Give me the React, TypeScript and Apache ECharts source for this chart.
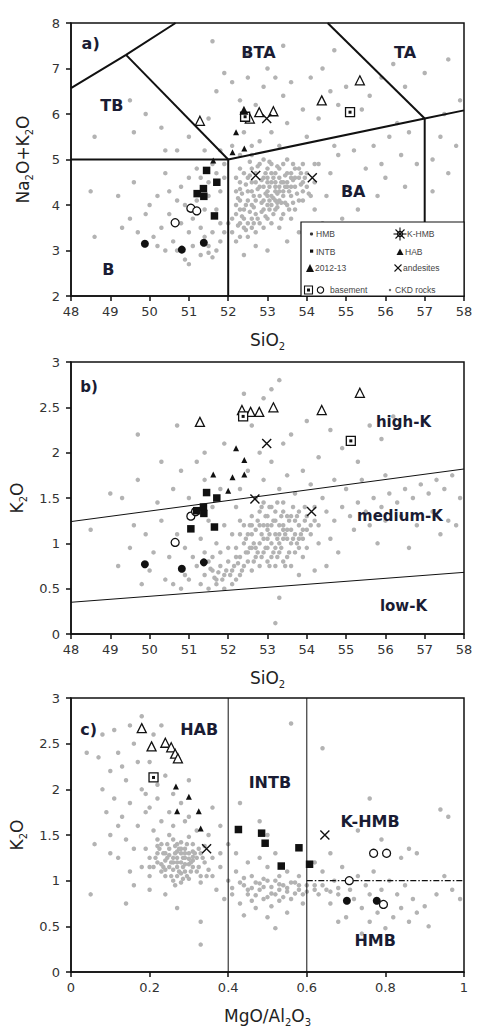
import React, { useEffect, useRef } from "react";
import * as echarts from "echarts";

// ---------- Panel a) TAS: SiO2 vs Na2O+K2O ----------
const grayA: number[][] = [
  [52.3,4.1],[52.4,3.9],[52.5,4.3],[52.6,4.0],[52.7,4.5],[52.8,4.2],[52.9,4.6],[53.0,4.3],[53.1,4.5],[53.2,4.4],[53.3,4.6],[53.4,4.3],[53.5,4.5],[53.6,4.2],[53.7,4.4],[53.8,4.6],[53.9,4.3],[52.5,4.6],[52.6,4.8],[52.8,4.9],[53.0,4.8],[53.2,4.7],[53.4,4.9],[53.6,4.7],[53.8,4.8],[52.4,3.7],[52.5,3.6],[52.7,3.8],[52.9,3.9],[53.1,4.0],[53.3,4.1],[53.5,4.0],[53.7,3.9],[52.2,3.8],[52.3,3.6],[52.2,4.3],[52.3,4.5],[52.4,4.7],[52.6,4.3],[52.7,4.1],[52.9,4.1],[53.0,4.0],[53.1,4.2],[53.2,4.1],[53.3,4.3],[53.4,4.5],[53.5,4.7],[53.6,4.4],[53.7,4.6],[53.9,4.5],[54.0,4.4],[54.1,4.2],[53.0,4.6],[53.1,4.7],[53.2,4.5],[53.3,4.4],[52.8,4.4],[52.9,4.4],[53.0,4.5],[53.2,4.3],[53.4,4.2],[53.5,4.4],[53.6,4.6],[52.6,3.7],[52.8,3.6],[53.0,3.7],[52.4,3.5],[52.6,3.5],[52.3,3.9],[52.2,4.0],[53.9,4.1],[54.0,4.7],[54.2,4.5],[53.8,4.1],[52.7,4.7],[53.1,4.9],[53.3,4.8],[53.5,5.0],[52.9,5.0],[53.7,4.8],[52.5,4.1],[52.6,4.5],[53.9,4.9],[54.2,4.9],[52.2,4.6],[52.3,4.8],[53.0,4.2],[53.2,3.9],[53.4,3.8],[53.6,3.7],
  [52.35,4.25],[52.45,4.45],[52.55,4.65],[52.65,4.2],[52.75,4.35],[52.85,4.55],[52.95,4.25],[53.05,4.4],[53.15,4.6],[53.25,4.25],[53.35,4.5],[53.45,4.65],[53.55,4.3],[53.65,4.55],[53.75,4.25],[53.85,4.45],[52.45,4.0],[52.55,3.85],[52.65,3.95],[52.75,3.7],[52.85,3.85],[52.95,3.75],[53.05,3.9],[53.15,3.8],[53.25,3.95],[53.35,3.7],[53.45,4.05],[53.55,3.9],[52.35,3.75],[52.25,3.55],[52.45,3.45],[52.65,3.6],[52.85,4.05],[53.05,4.1],[53.25,4.05],[53.45,4.4],[53.65,4.05],[53.85,4.7],[53.05,4.95],[53.25,4.85],[52.75,4.85],[52.55,4.95],[53.65,4.9],[53.95,4.6],[54.05,4.25],[52.95,4.7],[53.15,4.15],[53.35,4.05],[52.25,4.15],[52.3,4.35],
  [52.1,3.4],[52.2,3.2],[52.3,3.3],[52.5,3.3],[52.7,3.4],[52.9,3.5],[53.1,3.6],[53.3,3.5],[52.1,3.7],[52.0,3.6],
  [50.1,3.3],[50.3,3.5],[50.5,3.8],[50.6,3.2],[50.8,3.6],[50.9,4.0],[51.0,3.4],[51.1,3.7],[51.2,4.1],[51.3,3.5],[51.4,3.9],[51.5,4.2],[51.6,3.4],[51.7,3.9],[51.8,4.3],[51.9,4.6],[51.8,3.6],[51.5,3.1],[51.3,2.9],[51.5,2.95],[51.7,3.0],[51.8,3.2],[51.6,2.85],[51.1,3.1],[50.9,2.8],[50.7,3.0],[50.4,3.0],[50.2,3.1],[49.7,3.4],[49.5,3.7],[49.9,3.8],[50.0,4.0],[50.2,4.2],[50.5,4.3],[50.8,4.4],[51.0,4.6],[51.2,4.8],[51.5,4.5],[51.7,4.7],[51.9,4.9],[51.6,4.9],[51.3,4.6],[50.7,4.1],[49.3,3.5],[48.6,3.3],[48.5,4.3],[49.2,4.2],[49.6,4.5],[50.4,4.7],[51.0,2.7],[51.4,3.3],[51.9,3.4],[51.0,3.9],
  [49.5,6.3],[49.9,6.0],[49.6,5.6],[50.3,5.7],[50.7,5.2],[51.0,5.5],[51.5,5.9],[51.7,6.5],[51.9,6.9],[52.1,6.7],[52.3,6.3],[52.5,6.8],[52.7,6.2],[52.9,6.6],[53.0,7.0],[53.2,6.8],[53.4,6.4],[53.6,6.7],[53.9,6.1],[54.1,6.8],[54.4,7.0],[54.6,6.5],[54.8,6.2],[55.0,6.6],[55.4,6.1],[55.6,6.4],[55.9,6.8],[56.2,7.1],[56.5,6.6],[57.0,6.9],[57.6,7.2],[53.4,7.5],[54.7,7.4],[52.5,7.3],[51.6,7.6],[50.4,5.2],[48.6,5.5],[53.1,5.6],[53.5,5.8],[54.0,5.5],[54.3,5.9],[52.8,5.4],[52.4,5.6],[52.6,5.3],[53.3,5.3],[52.1,5.3],[51.8,5.2],[51.4,5.2],[52.3,5.1],[52.6,5.1],
  [54.3,4.9],[54.5,4.2],[54.6,4.7],[54.8,5.1],[55.0,4.4],[55.2,5.2],[55.5,4.8],[55.7,5.3],[55.9,4.9],[56.1,5.5],[56.4,5.1],[56.6,5.6],[56.8,4.9],[55.3,3.9],[54.9,3.7],[54.4,3.6],[54.7,5.3],[56.0,4.6],[56.3,5.8],[57.2,5.0],[57.4,5.5],[57.6,4.7],[57.8,5.3],[57.5,6.0],[57.9,6.3],[57.2,4.3],[55.8,4.2],[56.5,4.4],[54.2,3.9],[53.8,3.4],[53.5,3.2],[52.7,3.1],[53.0,3.0],[52.4,2.9]
];
const hmbA = [[49.88,3.15],[50.82,3.02],[51.38,3.17]];
const openCircA = [[50.65,3.61],[51.05,3.93],[51.2,3.87]];
const intbA = [[51.45,4.76],[51.71,4.5],[51.37,4.36],[51.21,4.25],[51.38,4.19],[51.65,3.76]];
const habA = [[52.2,5.6],[52.11,5.16],[52.41,5.24],[51.62,4.98]];
const erupA = [[52.4,6.08]];
const openTriA = [[51.28,5.85],[52.55,5.9],[52.79,6.04],[53.15,6.06],[54.38,6.3],[55.35,6.74]];
const basementA = [[52.43,5.94],[55.1,6.04]];
const crossA = [[52.98,5.9],[52.7,4.65],[54.14,4.6]];
const tasLines: number[][][] = [
  [[48,6.57],[49.4,7.3],[50.66,8]],
  [[49.4,7.3],[52,5]],
  [[48,5],[52,5],[57,5.9],[58,6.08]],
  [[52,2],[52,5]],
  [[57,2],[57,5.9]],
  [[57,5.9],[54.53,8]]
];
const labelsA = [
  { name: "BTA", value: [52.77,7.36] },
  { name: "TA", value: [56.5,7.36] },
  { name: "TB", value: [49.04,6.19] },
  { name: "BA", value: [55.18,4.29] },
  { name: "B", value: [48.95,2.58] },
  { name: "a)", value: [48.5,7.55] }
];

// ---------- Panel b) SiO2 vs K2O ----------
const grayB: number[][] = [
  [52.4,1.0],[52.5,0.9],[52.6,1.1],[52.7,0.95],[52.8,1.2],[52.9,1.05],[53.0,1.15],[53.1,1.0],[53.2,1.1],[53.3,1.2],[53.4,1.05],[53.5,1.15],[53.6,1.0],[53.7,1.1],[53.8,1.2],[53.9,1.05],[54.0,1.15],[52.6,1.3],[52.8,1.35],[53.0,1.3],[53.2,1.25],[53.4,1.35],[53.6,1.3],[53.8,1.35],[54.0,1.3],[52.5,0.8],[52.7,0.85],[52.9,0.9],[53.1,0.85],[53.3,0.9],[53.5,0.85],[53.7,0.9],[52.3,0.85],[52.4,1.2],[52.6,0.95],[52.8,1.0],[53.0,1.05],[53.1,1.2],[53.2,0.95],[53.3,1.1],[53.4,1.2],[53.5,1.3],[53.6,1.15],[53.7,1.25],[53.9,1.15],[54.1,1.1],[54.2,1.25],[52.9,1.2],[53.0,0.95],[53.2,1.35],[53.3,1.0],[53.5,1.05],[52.7,1.15],[52.5,1.1],[53.8,0.95],[54.0,0.95],[53.1,1.4],[52.9,1.45],[53.4,1.45],[52.2,0.95],[52.3,1.1],[52.4,0.75],[52.6,0.7],[52.8,0.75],[53.0,0.8],[53.2,0.75],[53.4,0.8],[53.6,0.75],[54.2,1.4],[54.3,1.0],[53.9,0.85],
  [52.45,1.05],[52.55,1.2],[52.65,1.0],[52.75,1.25],[52.85,1.1],[52.95,1.3],[53.05,1.1],[53.15,1.25],[53.25,1.05],[53.35,1.3],[53.45,1.1],[53.55,1.25],[53.65,1.05],[53.75,1.3],[53.85,1.1],[53.95,1.25],[52.55,0.95],[52.75,0.9],[52.95,0.95],[53.15,0.9],[53.35,0.95],[53.55,0.9],[53.75,1.0],[52.65,0.8],[52.85,0.85],[53.05,0.75],[53.25,0.85],[53.45,0.75],[52.45,0.9],[52.35,0.7],[52.15,0.75],[52.05,0.65],[51.95,0.7],[51.85,0.6],[51.75,0.68],[51.65,0.62],[51.55,0.72],[52.25,0.78],[52.85,1.4],[53.05,1.4],[53.25,1.45],[53.65,1.4],[53.95,1.4],[54.1,1.2],[52.6,1.2],[53.0,1.2],[53.4,1.15],[53.8,1.05],
  [51.2,0.75],[51.4,0.65],[51.5,0.8],[51.6,0.7],[51.7,0.6],[51.8,0.75],[51.9,0.65],[52.0,0.8],[52.1,0.7],[52.2,0.6],[51.3,0.55],[51.5,0.5],[51.7,0.55],[51.9,0.5],[52.1,0.55],[52.3,0.65],[51.0,0.6],[50.8,0.5],[50.6,0.55],[51.6,0.85],[51.8,0.9],[52.0,0.95],[52.2,0.85],[51.4,0.9],[50.9,0.65],
  [49.2,0.75],[49.5,0.95],[49.6,1.2],[49.9,1.1],[50.1,0.9],[50.3,1.25],[50.5,0.85],[50.7,1.1],[50.9,0.95],[51.1,1.3],[51.3,1.05],[51.5,1.25],[51.7,1.0],[51.9,1.2],[52.1,1.1],[50.2,1.45],[50.6,1.6],[51.0,1.5],[51.4,1.7],[51.8,1.6],[52.2,1.4],[49.3,1.5],[49.0,1.55],[48.5,1.15],[49.7,1.7],[50.8,1.8],[51.2,1.9],[50.4,0.6],[50.0,0.7],[49.8,0.55],[51.1,0.85],[52.3,1.25],[51.6,1.4],[50.7,2.3],[51.4,2.0],[51.9,2.1],[50.3,1.9],[49.7,2.2],
  [52.3,1.6],[52.5,1.8],[52.7,1.5],[52.9,1.7],[53.1,1.9],[53.3,1.6],[53.5,1.75],[53.7,1.55],[53.9,1.8],[54.1,1.65],[54.3,1.95],[52.6,2.3],[52.4,2.65],[52.9,2.6],[53.1,2.7],[53.3,2.8],[53.6,2.2],[54.0,2.35],[54.6,2.25],[54.9,2.05],[55.3,1.9],[55.6,2.3],[55.9,2.15],[56.2,2.4],[52.8,2.0],[53.4,2.1],[54.4,1.5],[54.7,1.7],[55.0,1.6],
  [54.3,1.2],[54.5,1.35],[54.7,1.25],[54.9,1.4],[55.1,1.3],[55.3,1.45],[55.5,1.35],[55.7,1.5],[55.9,1.4],[56.1,1.55],[56.3,1.45],[56.5,1.6],[56.7,1.5],[56.9,1.65],[57.1,1.55],[57.3,1.7],[57.5,1.6],[57.7,1.75],[57.9,1.5],[55.2,1.15],[55.6,1.2],[56.0,1.25],[56.4,1.3],[56.8,1.2],[57.2,1.35],[57.6,1.25],[57.8,1.2],[56.6,0.95],[54.6,1.05],[55.8,1.0],[54.8,0.9],[57.4,1.1],[55.4,1.7],[56.0,1.75],[54.2,0.7],[53.8,0.65],[53.3,0.4],[53.2,0.12],[54.5,0.75]
];
const hmbB = [[49.88,0.77],[50.82,0.72],[51.38,0.79]];
const openCircB = [[50.65,1.01],[51.05,1.3],[51.17,1.35]];
const intbB = [[51.45,1.56],[51.71,1.5],[51.37,1.4],[51.2,1.36],[51.38,1.33],[51.05,1.16],[51.65,1.18]];
const habB = [[52.2,2.05],[52.41,1.92],[51.62,1.76],[52.11,1.73],[52.41,1.76],[52.0,1.58]];
const openTriB = [[51.28,2.34],[52.35,2.47],[52.57,2.45],[52.79,2.45],[53.15,2.5],[54.38,2.47],[55.35,2.66]];
const basementB = [[52.38,2.4],[55.12,2.13]];
const crossB = [[52.98,2.1],[52.68,1.49],[54.12,1.35]];
const kLines: number[][][] = [
  [[48,1.24],[58,1.82]],
  [[48,0.35],[58,0.68]]
];
const labelsB = [
  { name: "high-K", value: [56.46,2.34] },
  { name: "medium-K", value: [56.37,1.3] },
  { name: "low-K", value: [56.46,0.31] },
  { name: "b)", value: [48.46,2.72] }
];

// ---------- Panel c) MgO/Al2O3 vs K2O ----------
const grayC: number[][] = [
  [0.22,1.2],[0.23,1.1],[0.24,1.3],[0.25,1.15],[0.26,1.25],[0.27,1.05],[0.28,1.2],[0.29,1.1],[0.3,1.3],[0.31,1.15],[0.32,1.25],[0.33,1.05],[0.34,1.2],[0.25,1.35],[0.27,1.4],[0.29,1.35],[0.31,1.4],[0.26,1.0],[0.28,0.98],[0.3,1.02],[0.24,1.05],[0.22,1.3],[0.21,1.15],[0.2,1.25],[0.23,1.4],[0.26,1.45],[0.28,1.3],[0.29,1.25],[0.27,1.15],[0.26,1.12],[0.28,1.08],[0.3,1.18],[0.32,1.1],[0.24,1.22],[0.25,1.28],[0.27,1.32],[0.23,1.18],[0.3,1.24],[0.31,1.32],[0.33,1.3],[0.35,1.12],[0.36,1.25],[0.34,1.38],[0.28,1.42],[0.25,1.5],[0.3,1.48],[0.22,1.45],[0.19,1.35],[0.2,1.05],[0.33,0.98],[0.26,1.2],[0.29,1.18],[0.27,1.25],[0.31,1.22],[0.24,1.12],[0.28,1.35],
  [0.215,1.25],[0.225,1.35],[0.235,1.15],[0.245,1.25],[0.255,1.05],[0.265,1.3],[0.275,1.1],[0.285,1.25],[0.295,1.05],[0.305,1.2],[0.315,1.3],[0.325,1.15],[0.335,1.25],[0.245,1.4],[0.265,1.38],[0.285,1.15],[0.295,1.4],[0.305,1.1],[0.275,1.35],[0.255,1.2],[0.235,1.3],[0.285,1.02],[0.265,0.95],[0.325,1.35],[0.345,1.05],[0.22,1.38],[0.2,1.15],[0.31,1.26],[0.27,1.2],[0.29,1.3],
  [0.07,2.35],[0.08,2.0],[0.1,2.2],[0.11,1.9],[0.12,2.4],[0.13,1.7],[0.14,2.1],[0.15,1.85],[0.16,2.5],[0.17,1.6],[0.18,2.0],[0.19,1.75],[0.2,2.3],[0.21,1.55],[0.22,1.9],[0.23,1.65],[0.24,2.15],[0.25,1.75],[0.26,1.6],[0.28,1.85],[0.29,1.65],[0.3,1.7],[0.32,1.55],[0.09,1.75],[0.1,1.5],[0.12,1.6],[0.14,1.45],[0.16,1.35],[0.15,2.7],[0.18,2.8],[0.21,2.6],[0.23,2.7],[0.08,2.6],[0.06,1.4],[0.05,0.85],[0.04,2.4],[0.11,2.65],[0.13,2.25],[0.17,2.3],[0.19,1.95],[0.2,1.8],[0.12,1.25],[0.15,1.1],[0.18,1.15],[0.1,1.3],[0.16,0.95],[0.14,0.75],[0.2,0.9],[0.24,0.85],[0.27,0.7],[0.33,0.55],[0.33,0.3],[0.22,2.05],[0.26,1.95],[0.3,2.1],[0.36,1.8],[0.38,1.6],[0.35,1.5],
  [0.36,1.05],[0.38,1.15],[0.4,1.0],[0.42,1.1],[0.44,0.95],[0.46,1.05],[0.48,0.9],[0.5,1.0],[0.52,0.85],[0.54,0.95],[0.56,0.8],[0.58,0.9],[0.6,0.95],[0.37,0.9],[0.39,0.8],[0.41,0.85],[0.43,0.75],[0.45,0.85],[0.47,0.7],[0.49,0.8],[0.51,0.72],[0.53,0.78],[0.55,0.88],[0.57,0.98],[0.59,0.85],[0.45,1.2],[0.48,1.25],[0.5,1.15],[0.53,1.05],[0.55,1.1],[0.42,1.3],[0.4,1.4],[0.38,1.3],[0.44,0.62],[0.5,0.6],[0.55,0.65],[0.52,0.48],[0.46,0.92],[0.49,1.02],[0.51,0.93],[0.53,0.9],[0.47,0.98],[0.58,1.05],[0.52,1.3],[0.56,2.72],[0.48,1.65],[0.43,1.85],[0.5,1.5],[0.59,0.75],
  [0.41,0.92],[0.43,0.98],[0.45,0.9],[0.47,0.84],[0.49,0.93],[0.51,0.86],[0.53,0.96],[0.55,0.92],[0.57,0.86],[0.44,1.03],[0.46,0.78],[0.5,0.82],[0.54,0.82],[0.58,0.95],[0.48,0.97],[0.52,1.0],[0.56,0.98],[0.6,0.88],[0.62,0.9],[0.64,0.95],[0.66,0.88],[0.68,0.92],
  [0.62,0.95],[0.63,0.85],[0.64,1.1],[0.65,0.9],[0.66,0.75],[0.67,1.0],[0.68,0.85],[0.69,1.15],[0.71,0.9],[0.72,0.8],[0.73,1.05],[0.74,0.7],[0.75,0.95],[0.76,0.85],[0.77,1.1],[0.78,0.65],[0.79,0.9],[0.8,0.75],[0.81,1.0],[0.82,0.6],[0.83,0.85],[0.84,0.7],[0.85,0.95],[0.86,0.55],[0.87,0.8],[0.88,0.65],[0.9,0.72],[0.91,0.5],[0.93,0.85],[0.76,0.55],[0.8,0.48],[0.7,0.6],[0.84,1.25],[0.86,1.35],[0.88,1.3],[0.94,1.78],[0.96,1.7],[0.76,1.9],[0.73,1.55],[0.79,1.45],[0.66,1.3],[0.62,1.2],[0.64,2.45],[0.95,1.05],[0.97,0.9],[0.99,0.8],[0.68,0.55],[0.74,0.42]
];
const openTriC = [[0.18,2.67],[0.205,2.47],[0.24,2.51],[0.255,2.46],[0.265,2.39],[0.272,2.34]];
const basementC = [[0.21,2.13]];
const habC = [[0.267,2.03],[0.3,1.92],[0.27,1.76],[0.325,1.76],[0.33,1.57]];
const crossC = [[0.345,1.35],[0.646,1.5]];
const intbC = [[0.426,1.56],[0.485,1.52],[0.494,1.41],[0.58,1.36],[0.535,1.16],[0.607,1.18]];
const openCircC = [[0.77,1.3],[0.803,1.3],[0.708,1.0],[0.795,0.74]];
const hmbC = [[0.702,0.78],[0.778,0.78]];
const solidLinesC: number[][][] = [
  [[0.4,0],[0.4,3]],
  [[0.6,0],[0.6,3]]
];
const dashLineC: number[][] = [[0.6,1],[1,1]];
const labelsC = [
  { name: "HAB", value: [0.326,2.65] },
  { name: "INTB", value: [0.506,2.07] },
  { name: "K-HMB", value: [0.761,1.65] },
  { name: "HMB", value: [0.774,0.35] },
  { name: "c)", value: [0.045,2.65] }
];

const INK = "#111";
const GRAY = "#b3b3b3";
const LABEL = "#1a1c33";
const FONT = "DejaVu Sans";
const CROSS = "path://M0,0L10,10M10,0L0,10";

export default function App() {
  const ref = useRef<HTMLDivElement>(null);

  useEffect(() => {
    document.body.style.margin = "0";
    if (!ref.current) return;
    const chart = echarts.init(ref.current, null, { renderer: "svg" });

    const series: any[] = [];
    const scat = (g: number, data: any[], symbol: string, size: number, itemStyle: any, z = 5) =>
      series.push({ type: "scatter", xAxisIndex: g, yAxisIndex: g, data, symbol, symbolSize: size, itemStyle: { opacity: 1, ...itemStyle }, z, silent: true });
    const line = (g: number, pts: number[][], width: number, type: any = "solid") =>
      series.push({ type: "line", xAxisIndex: g, yAxisIndex: g, data: pts, symbol: "none", lineStyle: { color: INK, width, type, opacity: 1 }, z: 4, silent: true });
    const labels = (g: number, data: any[], size: number) =>
      series.push({
        type: "scatter", xAxisIndex: g, yAxisIndex: g, data, symbolSize: 1, itemStyle: { color: "rgba(0,0,0,0)", opacity: 1 }, z: 6, silent: true,
        label: { show: true, position: "inside", formatter: "{b}", color: LABEL, opacity: 1, fontSize: size, fontWeight: "bold", fontFamily: FONT }
      });

    const gray = { color: GRAY };
    const filled = { color: INK };
    const open = { color: "#fff", borderColor: INK, borderWidth: 1.3 };
    const cross = { color: "none", borderColor: INK, borderWidth: 1.4 };

    // panel a
    scat(0, grayA, "circle", 4.5, gray, 2);
    tasLines.forEach((l) => line(0, l, 2));
    scat(0, hmbA, "circle", 8, filled);
    scat(0, openCircA, "circle", 8, open);
    scat(0, intbA, "rect", 7.5, filled);
    scat(0, habA, "triangle", 6, filled);
    scat(0, openTriA, "triangle", 9, open);
    scat(0, basementA, "rect", 9, open);
    scat(0, basementA, "rect", 3, filled, 6);
    scat(0, erupA, "triangle", 9, filled);
    scat(0, crossA, CROSS, 9, cross);
    labels(0, labelsA, 16);

    // panel b
    scat(1, grayB, "circle", 4.5, gray, 2);
    kLines.forEach((l) => line(1, l, 1));
    scat(1, hmbB, "circle", 8, filled);
    scat(1, openCircB, "circle", 8, open);
    scat(1, intbB, "rect", 7.5, filled);
    scat(1, habB, "triangle", 6, filled);
    scat(1, openTriB, "triangle", 9, open);
    scat(1, basementB, "rect", 9, open);
    scat(1, basementB, "rect", 3, filled, 6);
    scat(1, crossB, CROSS, 9, cross);
    labels(1, labelsB, 15);

    // panel c
    scat(2, grayC, "circle", 4.5, gray, 2);
    solidLinesC.forEach((l) => line(2, l, 1));
    line(2, dashLineC, 1.3, [6, 2, 1.5, 2]);
    scat(2, hmbC, "circle", 8, filled);
    scat(2, openCircC, "circle", 8, open);
    scat(2, intbC, "rect", 7.5, filled);
    scat(2, habC, "triangle", 6, filled);
    scat(2, openTriC, "triangle", 9, open);
    scat(2, basementC, "rect", 9, open);
    scat(2, basementC, "rect", 3, filled, 6);
    scat(2, crossC, CROSS, 9, cross);
    labels(2, labelsC, 16);

    const rich = {
      n: { fontSize: 17, fontFamily: FONT, color: "#222", lineHeight: 22 },
      s: { fontSize: 10, fontFamily: FONT, color: "#222", lineHeight: 10, verticalAlign: "bottom" }
    };
    const axisCommon = {
      type: "value",
      axisLine: { show: true, onZero: false, lineStyle: { color: INK, width: 1.5 } },
      axisTick: { show: true, length: 5, lineStyle: { color: INK, width: 1.5 } },
      splitLine: { show: false },
      nameLocation: "middle",
      nameTextStyle: { rich }
    };
    const xAx = (g: number, min: number, max: number, interval: number, name: string) => ({
      ...axisCommon, gridIndex: g, min, max, interval, name, nameGap: 33,
      axisLabel: { margin: 9, color: "#333", fontSize: 13, fontFamily: FONT }
    });
    const yAx = (g: number, min: number, max: number, interval: number, name: string) => ({
      ...axisCommon, gridIndex: g, min, max, interval, name, nameGap: 37,
      axisLabel: { margin: 11, color: "#333", fontSize: 13, fontFamily: FONT }
    });

    const lg = (text: string, x: number, y: number) => ({
      type: "text", z: 101, style: { text, x, y, fill: "#444", fontSize: 8.5, fontFamily: "Liberation Sans", verticalAlign: "middle" }
    });
    const st = { stroke: INK, lineWidth: 1.1 };
    const graphic = [
      { type: "rect", z: 100, shape: { x: 301, y: 222, width: 163, height: 74 }, style: { fill: "#fff", stroke: INK, lineWidth: 1.2 } },
      { type: "circle", z: 101, shape: { cx: 311.5, cy: 234, r: 1.6 }, style: { fill: "#333" } },
      lg("HMB", 316, 234),
      { type: "circle", z: 101, shape: { cx: 400, cy: 234, r: 2.6 }, style: { fill: "none", ...st } },
      { type: "line", z: 101, shape: { x1: 393.5, y1: 234, x2: 406.5, y2: 234 }, style: st },
      { type: "line", z: 101, shape: { x1: 400, y1: 227.5, x2: 400, y2: 240.5 }, style: st },
      { type: "line", z: 101, shape: { x1: 395.5, y1: 229.5, x2: 404.5, y2: 238.5 }, style: st },
      { type: "line", z: 101, shape: { x1: 404.5, y1: 229.5, x2: 395.5, y2: 238.5 }, style: st },
      lg("K-HMB", 407, 234),
      { type: "rect", z: 101, shape: { x: 310, y: 249.5, width: 3.2, height: 3.2 }, style: { fill: INK } },
      lg("INTB", 316, 251.5),
      { type: "polygon", z: 101, shape: { points: [[396.5, 255], [403.5, 255], [400, 248.5]] }, style: { fill: INK } },
      lg("HAB", 405, 251.5),
      { type: "polygon", z: 101, shape: { points: [[306, 272], [314, 272], [310, 264]] }, style: { fill: INK } },
      lg("2012-13", 315, 268),
      { type: "line", z: 101, shape: { x1: 394.5, y1: 264.5, x2: 401.5, y2: 271.5 }, style: st },
      { type: "line", z: 101, shape: { x1: 401.5, y1: 264.5, x2: 394.5, y2: 271.5 }, style: st },
      lg("andesites", 403, 268),
      { type: "rect", z: 101, shape: { x: 304.5, y: 286, width: 8, height: 8 }, style: { fill: "#fff", ...st } },
      { type: "rect", z: 102, shape: { x: 307, y: 288.5, width: 3, height: 3 }, style: { fill: INK } },
      { type: "circle", z: 101, shape: { cx: 320.5, cy: 290, r: 3.2 }, style: { fill: "none", ...st } },
      lg("basement", 330, 290),
      { type: "circle", z: 101, shape: { cx: 390, cy: 290, r: 1.2 }, style: { fill: "#666" } },
      lg("CKD rocks", 395, 290)
    ];

    const gridBase = { show: true, borderColor: INK, borderWidth: 1.5, backgroundColor: "transparent", left: 71, width: 393 };
    chart.setOption({
      animation: false,
      backgroundColor: "#fff",
      grid: [
        { ...gridBase, top: 23, height: 273 },
        { ...gridBase, top: 362, height: 272 },
        { ...gridBase, top: 698, height: 274 }
      ],
      xAxis: [
        xAx(0, 48, 58, 1, "{n|SiO}{s|2}"),
        xAx(1, 48, 58, 1, "{n|SiO}{s|2}"),
        xAx(2, 0, 1, 0.2, "{n|MgO/Al}{s|2}{n|O}{s|3}")
      ],
      yAxis: [
        yAx(0, 2, 8, 1, "{n|Na}{s|2}{n|O+K}{s|2}{n|O}"),
        yAx(1, 0, 3, 0.5, "{n|K}{s|2}{n|O}"),
        yAx(2, 0, 3, 0.5, "{n|K}{s|2}{n|O}")
      ],
      graphic,
      series
    });
    return () => chart.dispose();
  }, []);

  return <div ref={ref} style={{ width: 480, height: 1030 }} />;
}
